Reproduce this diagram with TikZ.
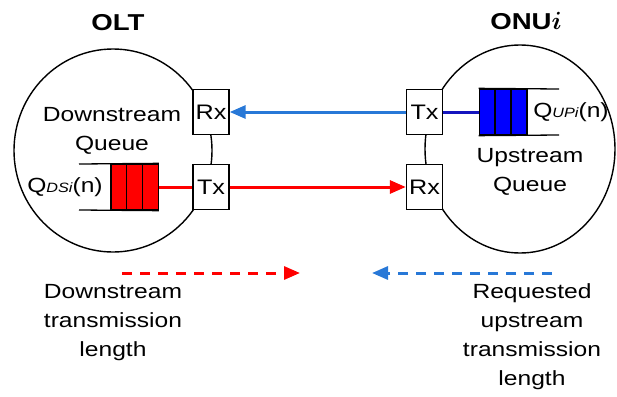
\documentclass[tikz,border=0pt]{standalone}
\usepackage{fontspec}
\setmainfont[FakeStretch=1.2]{Liberation Sans}
\usetikzlibrary{arrows.meta,shapes.geometric}
\definecolor{reqblue}{RGB}{40,120,215}
\definecolor{qblue}{RGB}{0,0,255}
\definecolor{linkblue}{RGB}{20,20,190}
\tikzset{
  station/.style={ellipse,draw,line width=1.4pt,inner sep=0pt},
  trx/.style={draw,fill=white,line width=1.4pt,minimum width=36pt,minimum height=45pt,inner sep=0pt,font=\fontsize{21}{24}\selectfont},
  cell/.style={draw,line width=1.3pt,minimum width=15.7pt,minimum height=46pt,inner sep=0pt},
  lbl/.style={align=center,font=\fontsize{20.5}{29}\selectfont},
  ttl/.style={font=\fontsize{23}{27}\selectfont\bfseries},
  tip/.style={-{Triangle[length=16pt,width=13pt]}}
}

\begin{document}
\begin{tikzpicture}[x=1pt,y=-1pt]
	%%%%% START %%%%%
	\useasboundingbox (0,0) rectangle (617,396);
	
	\node[station,minimum width=198pt,minimum height=203pt] (olt) at (113,150.5) {};
	\node[station,minimum width=190pt,minimum height=208pt] (onu) at (520,149) {};
	\node[ttl] (oltname) at (118,23) {OLT};
	\node[ttl] (onuname) at (526,21) {ONU{\boldmath$i$}};
	
	\node[trx] (oltrx) at (211,112) {Rx};
	\node[trx] (olttx) at (211,187) {Tx};
	\node[trx] (onutx) at (424.5,112) {Tx};
	\node[trx] (onurx) at (424.5,187) {Rx};
	
	% downstream queue
	\foreach \i in {1,2,3}
		\node[cell,fill=red] (dq\i) at (103.2+15.7*\i,187) {};
	\draw[line width=1.3pt] (79,164) -- (dq3.north east);
	\draw[line width=1.3pt] (79,210) -- (dq3.south east);
	\node[lbl] (dsq) at (65,187) {Q{\fontsize{13.5}{14}\selectfont\itshape DSi}(n)};
	\node[lbl] (dsname) at (112,131) {Downstream\\Queue};
	
	% upstream queue
	\foreach \i in {1,2,3}
		\node[cell,fill=qblue] (uq\i) at (471+16*\i,112) {};
	\draw[line width=1.3pt] (uq1.north west) -- (559,89);
	\draw[line width=1.3pt] (uq1.south west) -- (559,135);
	\node[lbl] (usq) at (571,112) {Q{\fontsize{13.5}{14}\selectfont\itshape UPi}(n)};
	\node[lbl] (usname) at (530,172) {Upstream\\Queue};
	
	\draw[tip,reqblue,line width=3pt] (onutx) -- (oltrx);
	\draw[linkblue,line width=3pt] (onutx) -- (uq1);
	\draw[red,line width=3pt] (dq3) -- (olttx);
	\draw[tip,red,line width=3pt] (olttx) -- (onurx);
	
	% transmission lengths
	\coordinate (dsa) at (122,273);
	\coordinate (dsb) at (300,273);
	\coordinate (usa) at (552,273);
	\coordinate (usb) at (372,273);
	\draw[tip,red,line width=3pt,dash pattern=on 10pt off 8pt] (dsa) -- (dsb);
	\draw[tip,reqblue,line width=3pt,dash pattern=on 10pt off 8pt] (usa) -- (usb);
	\node[lbl] (dslen) at (113,323) {Downstream\\transmission\\length};
	\node[lbl] (uslen) at (532,337) {Requested\\upstream\\transmission\\length};
	
	%%%%% END %%%%%
\end{tikzpicture}
\end{document}
